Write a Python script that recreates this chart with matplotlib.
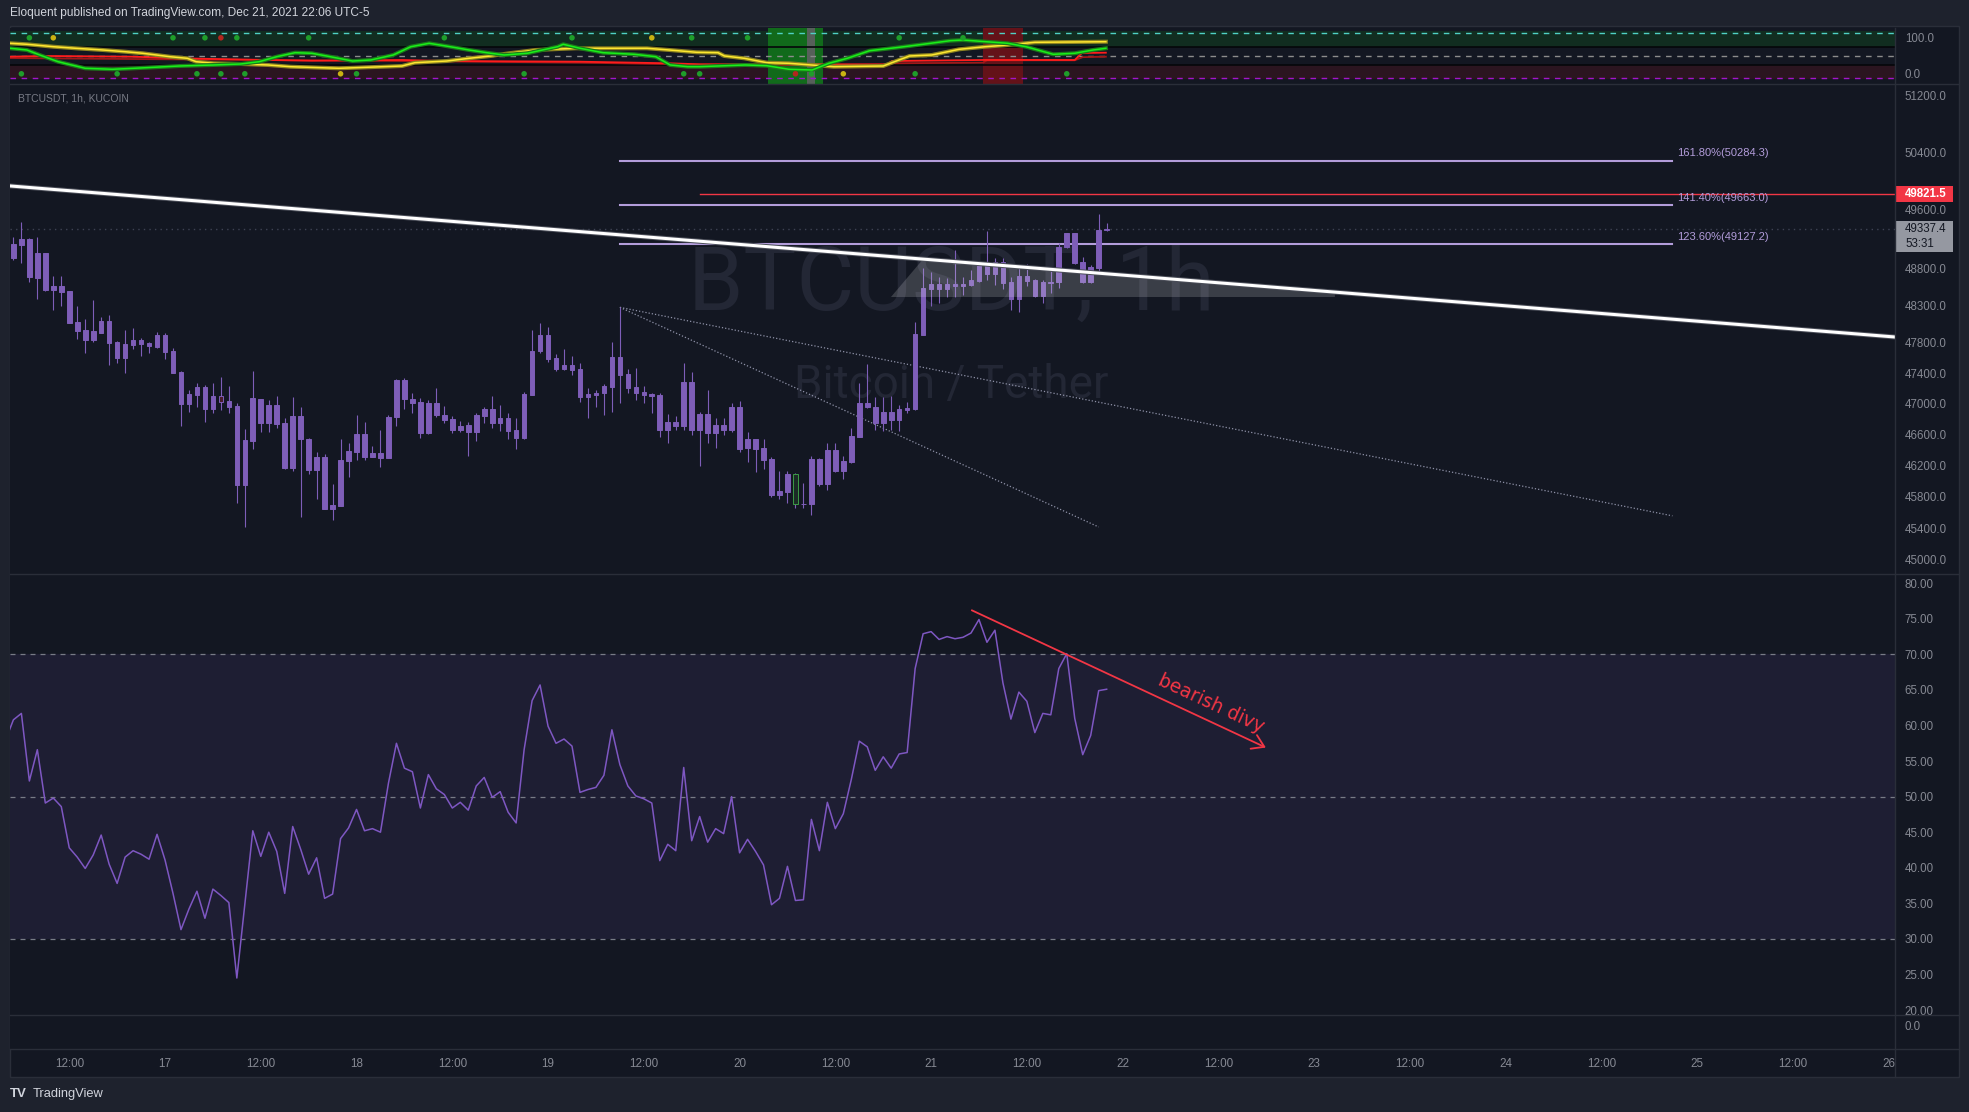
import numpy as np
import matplotlib
matplotlib.use("Agg")
import matplotlib.pyplot as plt
import matplotlib.patheffects as pe
from matplotlib.patches import Rectangle
from matplotlib.lines import Line2D
from matplotlib.text import Text
from matplotlib.offsetbox import DrawingArea, AnnotationBbox
from matplotlib.ticker import FixedLocator, FixedFormatter, NullLocator

plt.rcParams['font.family'] = ['Liberation Sans', 'DejaVu Sans']

# x axis = hours since Dec 16 00:00, one candle per hour
first_hour = 5
opens = [48941, 49116, 49195, 48673, 49016, 48505, 48558, 48492, 48078, 47973,
         47839, 47935, 48091, 47817, 47604, 47773, 47839, 47795, 47747, 47904,
         47692, 47415, 46999, 47112, 47217, 46934, 47099, 47033, 46968, 45942,
         46518, 47060, 46751, 46981, 46751, 46168, 46838, 46539, 46133, 46307,
         45646, 45685, 46259, 46373, 46603, 46312, 46356, 46299, 46829, 47309,
         47055, 47020, 46620, 47003, 46851, 46794, 46655, 46721, 46634, 46838,
         46930, 46751, 46807, 46655, 46555, 47112, 47692, 47904, 47596, 47454,
         47506, 47454, 47090, 47112, 47134, 47221, 47613, 47393, 47212, 47156,
         47099, 47112, 46655, 46765, 46708, 47282, 46655, 46864, 46612, 46721,
         46655, 46955, 46422, 46539, 46422, 46281, 45819, 45863, 46085, 45703,
         45699, 46281, 45964, 46395, 46120, 46246, 46568, 47003, 46955, 46751,
         46890, 46785, 46916, 46925, 47904, 48527, 48590, 48518, 48590, 48564,
         48577, 48629, 48854, 48721, 48889, 48621, 48388, 48695, 48642, 48427,
         48607, 48616, 49094, 49286, 48884, 48621, 48810, 49321]
highs = [49225, 49434, 49212, 49234, 49016, 48695, 48695, 48497, 48292, 48117,
         48374, 48148, 48174, 47826, 47973, 47999, 47861, 47817, 47939, 47926,
         47727, 47428, 47178, 47274, 47243, 47274, 47353, 47230, 47003, 46664,
         47428, 47060, 47047, 47099, 46807, 47090, 46959, 46551, 46373, 46347,
         45964, 46539, 46491, 46851, 46765, 46448, 46655, 46851, 47317, 47331,
         47143, 47068, 47047, 47199, 46968, 46838, 46772, 46760, 46873, 46959,
         47099, 46981, 46882, 46807, 47156, 47973, 48069, 48017, 47652, 47718,
         47626, 47528, 47199, 47178, 47256, 47817, 48274, 47454, 47463, 47230,
         47143, 47143, 46860, 46838, 47528, 47415, 46890, 47178, 46807, 46807,
         47012, 47033, 46629, 46539, 46535, 46303, 46120, 46120, 46098, 45967,
         46321, 46290, 46483, 46491, 46321, 46677, 47265, 47519, 47090, 47090,
         47099, 46981, 47025, 48078, 48801, 48752, 48677, 48673, 49051, 48686,
         48779, 48889, 49312, 48945, 48945, 48677, 48801, 48858, 48656, 48642,
         48760, 49151, 49286, 49286, 48954, 48845, 49547, 49416]
lows = [48911, 48867, 48621, 48383, 48497, 48239, 48292, 48069, 47856, 47670,
        47817, 47926, 47511, 47528, 47397, 47722, 47631, 47661, 47727, 47591,
        47406, 46712, 46895, 46959, 46764, 46873, 46916, 46882, 45716, 45417,
        46404, 46625, 46625, 46686, 46151, 46120, 45541, 46090, 45763, 45638,
        45496, 45680, 46055, 46268, 46268, 46312, 46172, 46299, 46712, 46929,
        46882, 46555, 46598, 46829, 46751, 46612, 46625, 46321, 46518, 46751,
        46677, 46647, 46535, 46404, 46535, 47112, 47670, 47539, 47432, 47441,
        47375, 47025, 46807, 46959, 46851, 46895, 47012, 47143, 47047, 47012,
        46882, 46559, 46483, 46655, 46655, 46590, 46194, 46491, 46417, 46590,
        46634, 46373, 46246, 46107, 46151, 45798, 45767, 45716, 45651, 45651,
        45566, 45929, 45885, 46107, 46020, 46224, 46559, 46938, 46655, 46647,
        46655, 46647, 46873, 46916, 47904, 48292, 48327, 48418, 48418, 48440,
        48558, 48621, 48642, 48577, 48518, 48239, 48217, 48558, 48418, 48335,
        48470, 48540, 49072, 48854, 48607, 48599, 48758, 49312]
closes = [49129, 49195, 48686, 49007, 48505, 48558, 48483, 48069, 47964, 47839,
          47960, 48091, 47804, 47604, 47787, 47839, 47787, 47752, 47904, 47683,
          47406, 46999, 47125, 47217, 46934, 47099, 47025, 46959, 45942, 46526,
          47073, 46751, 46981, 46738, 46168, 46838, 46535, 46133, 46307, 45646,
          45694, 46268, 46382, 46603, 46312, 46356, 46299, 46820, 47309, 47055,
          47012, 46620, 47003, 46851, 46785, 46655, 46708, 46634, 46851, 46930,
          46751, 46807, 46647, 46555, 47125, 47692, 47904, 47587, 47454, 47506,
          47441, 47090, 47125, 47143, 47230, 47613, 47375, 47208, 47143, 47112,
          47125, 46655, 46765, 46708, 47282, 46655, 46864, 46612, 46721, 46655,
          46955, 46413, 46539, 46413, 46268, 45819, 45872, 46090, 45703, 45699,
          46281, 45964, 46395, 46120, 46255, 46572, 47003, 46948, 46751, 46890,
          46785, 46925, 46943, 47918, 48536, 48590, 48518, 48590, 48564, 48590,
          48642, 48854, 48721, 48889, 48608, 48388, 48695, 48629, 48427, 48616,
          48616, 49094, 49286, 48867, 48621, 48814, 49321, 49337]
special_bars = {31: ('#4a1c2b', '#7e5eb8'), 103: ('#1b2a26', '#3c9a46')}
last_price = 49337.4
countdown = '53:31'
alert_price = 49821.5
alert_from = 91

rsi_first_hour = 4
rsi = [57.9, 60.8, 61.7, 52.2, 56.6, 49.1, 49.8, 48.6, 42.8, 41.5,
       39.9, 41.8, 44.6, 40.5, 37.8, 41.5, 42.4, 41.9, 41.2, 44.7,
       41.1, 36.4, 31.3, 34.2, 36.7, 32.9, 37.0, 36.1, 35.1, 24.5,
       34.8, 45.2, 41.6, 45.0, 42.3, 36.4, 45.8, 42.6, 39.1, 41.4,
       35.7, 36.3, 44.1, 45.6, 48.2, 45.2, 45.5, 45.0, 51.9, 57.5,
       54.0, 53.5, 48.4, 53.1, 51.1, 50.3, 48.4, 49.2, 48.1, 51.5,
       52.7, 49.9, 50.7, 47.8, 46.3, 56.6, 63.5, 65.7, 59.9, 57.5,
       58.1, 57.1, 50.6, 51.0, 51.3, 53.0, 59.4, 54.5, 51.5, 50.1,
       49.7, 49.1, 41.0, 43.3, 42.4, 54.1, 43.8, 47.2, 43.6, 45.5,
       44.8, 50.0, 42.1, 44.0, 42.3, 40.4, 34.8, 35.7, 40.2, 35.4,
       35.5, 46.8, 42.4, 49.2, 45.5, 47.6, 52.4, 57.8, 57.0, 53.7,
       55.6, 54.0, 56.0, 56.2, 68.0, 72.9, 73.2, 72.1, 72.5, 72.2,
       72.4, 73.0, 74.9, 71.7, 73.4, 66.0, 60.9, 64.7, 63.4, 59.0,
       61.7, 61.5, 68.0, 70.1, 61.0, 55.9, 58.6, 64.9, 65.1]

# drawings
trend_h = [4, 242]
trend_p = [49937, 47867]
shade_h = [114.97, 119.0, 170.6, 170.6]
shade_p = [48413, 48926, 48479, 48413]
fan_start = (81, 48274)
fan_ends = [(141.0, 45413), (212.9, 45554)]
fib_h = [81, 212.9]
fib_levels = [50284.3, 49663.0, 49127.2]
fib_labels = ['161.80%(50284.3)', '141.40%(49663.0)', '123.60%(49127.2)']
divy_h = [125.1, 161.95]
divy_v = [76.2, 56.9]
divy_label = 'bearish divy'
divy_label_at = (155.05, 63.1)

# top oscillator pane
green_h = [4.6, 6.7, 8.3, 10.6, 14.0, 17.4, 20.1, 25.8, 30.1, 33.5,
           35.8, 38.0, 40.3, 42.4, 44.7, 47.5, 49.8, 52.6, 54.8, 57.1,
           59.2, 62.1, 64.8, 66.5, 69.4, 73.2, 73.9, 76.0, 78.9, 82.8,
           85.5, 87.3, 89.5, 91.0, 96.7, 99.4, 102.2, 105.1, 107.2, 109.5,
           112.3, 115.6, 119.0, 122.4, 124.0, 126.9, 129.6, 131.9, 135.3, 138.0,
           140.3, 141.9]
green_v = [66.7, 62.9, 51.8, 36.9, 22.2, 20.0, 22.2, 27.3, 29.6, 31.8,
           36.9, 48.0, 56.9, 55.6, 48.0, 38.4, 40.7, 51.8, 70.2, 77.8,
           71.8, 62.9, 55.6, 51.8, 55.6, 70.2, 75.6, 66.7, 56.9, 53.3,
           48.0, 29.6, 25.8, 25.8, 29.6, 28.0, 20.0, 18.4, 33.3, 44.4,
           61.3, 68.0, 75.6, 83.6, 85.1, 81.3, 77.8, 70.2, 53.3, 55.6,
           62.9, 66.7]
yellow_h = [4.6, 6.7, 10.0, 12.8, 16.2, 19.0, 21.2, 24.6, 26.8, 27.9,
            30.1, 33.5, 36.9, 39.7, 45.8, 53.7, 55.3, 59.3, 62.1, 64.8,
            67.1, 70.4, 75.5, 84.4, 87.2, 90.6, 93.3, 94.1, 96.6, 99.4,
            102.2, 107.8, 114.0, 117.3, 120.1, 123.5, 126.8, 129.6, 133.0, 141.9]
yellow_v = [77.8, 75.6, 70.2, 66.7, 62.9, 59.1, 55.6, 48.0, 44.4, 36.9,
            33.3, 31.8, 29.6, 25.8, 22.2, 27.3, 34.7, 38.4, 44.4, 49.6,
            55.6, 62.9, 66.7, 66.7, 62.9, 57.8, 56.9, 49.6, 44.4, 34.7,
            33.3, 25.8, 27.3, 49.6, 51.8, 64.4, 70.2, 74.0, 80.0, 81.3]
red_fast_h = [4.6, 8.9, 20.1, 25.8, 36.9, 42.4, 53.7, 59.2, 76.0, 87.3,
              91.0, 114.5, 115.1, 126.5, 138.0, 138.9, 141.9]
red_fast_v = [48.0, 49.6, 48.0, 44.4, 40.7, 39.1, 40.7, 38.4, 36.9, 33.3,
              31.1, 31.1, 38.4, 40.7, 40.7, 56.2, 56.9]
red_slow_h = [4.6, 25.8, 53.7, 76.0, 91.0, 114.5, 115.1, 126.5, 127.0, 138.0, 139.0, 141.9]
red_slow_v = [45.0, 42.0, 38.4, 34.7, 30.4, 29.6, 33.3, 34.7, 40.0, 40.0, 47.0, 48.0]
dots_top_h = [7, 10, 25, 29, 31, 33, 42, 59, 75, 85, 90, 97, 116, 124]
dots_top_c = ['g', 'y', 'g', 'g', 'r', 'g', 'g', 'g', 'g', 'y', 'g', 'g', 'g', 'g']
dots_bot_h = [6, 18, 28, 31, 34, 46, 48, 69, 89, 91, 103, 105, 109, 118, 137]
dots_bot_c = ['g', 'g', 'g', 'g', 'g', 'y', 'g', 'g', 'g', 'g', 'r', 'g', 'y', 'g', 'g']
green_zone = (99.5, 106.5)
gray_zone = (104.5, 105.5)
red_zone = (126.5, 131.5)

price_ticks = [45000, 45400, 45800, 46200, 46600, 47000, 47400, 47800, 48300, 48800, 49600, 50400, 51200]
rsi_ticks = [20, 25, 30, 35, 40, 45, 50, 55, 60, 65, 70, 75, 80]
xtick_hours = [12, 24, 36, 48, 60, 72, 84, 96, 108, 120, 132, 144, 156, 168, 180, 192, 204, 216, 228, 240]
xtick_labels = ['12:00', '17', '12:00', '18', '12:00', '19', '12:00', '20', '12:00', '21',
                '12:00', '22', '12:00', '23', '12:00', '24', '12:00', '25', '12:00', '26']

BG = '#131722'
FRAME = '#1e222d'
SEP = '#2a2e39'
AXIS_TXT = '#868993'
PURPLE = '#7e5eb8'
RSI_COL = '#7e57c2'
FIB = '#b39ddb'
RED = '#f23645'
DOT = {'g': '#1f9e2a', 'y': '#c9b212', 'r': '#b3261e'}

W, H = 1969, 1112
fig = plt.figure(figsize=(W / 100, H / 100), dpi=100, facecolor=FRAME)


def pane(y0, y1, **kw):
    return fig.add_axes([10 / W, 1 - y1 / H, 1885 / W, (y1 - y0) / H], **kw)


ax_osc = pane(28, 84)
ax = pane(84, 574, sharex=ax_osc)
ax_rsi = pane(574, 1015, sharex=ax_osc)
ax_vol = pane(1015, 1049, sharex=ax_osc)

fig.add_artist(Rectangle((10 / W, 1 - 1077 / H), 1949 / W, 1051 / H, transform=fig.transFigure,
                         fc=BG, ec=SEP, lw=1, zorder=-1))
for y in [84, 574, 1015, 1049]:
    fig.add_artist(Line2D([10 / W, 1959 / W], [1 - y / H, 1 - y / H], transform=fig.transFigure,
                          color=SEP, lw=1, zorder=5))
fig.add_artist(Line2D([1895 / W, 1895 / W], [1 - 28 / H, 1 - 1077 / H], transform=fig.transFigure,
                      color=SEP, lw=1, zorder=5))


def style(a, ticks, labels, lo, hi):
    a.set_facecolor(BG)
    for s in a.spines.values():
        s.set_visible(False)
    a.set_ylim(lo, hi)
    a.yaxis.set_major_locator(FixedLocator(ticks))
    a.yaxis.set_major_formatter(FixedFormatter(labels))
    a.yaxis.set_minor_locator(NullLocator())
    a.yaxis.tick_right()
    a.tick_params(axis='y', which='both', length=0, pad=7, labelsize=8.3, labelcolor=AXIS_TXT)
    a.tick_params(axis='x', which='both', length=0, labelbottom=False)


ax.set_yscale('log')
style(ax, price_ticks, ['%.1f' % p for p in price_ticks], 44823, 51368)
style(ax_osc, [0, 100], ['0.0', '100.0'], -12.7, 111.8)
style(ax_rsi, rsi_ticks, ['%.2f' % v for v in rsi_ticks], 19.3, 81.3)
style(ax_vol, [0], ['0.0'], -2.4, 1)
ax.set_xlim(4.574, 240.79)
ax_vol.xaxis.set_major_locator(FixedLocator(xtick_hours))
ax_vol.xaxis.set_major_formatter(FixedFormatter(xtick_labels))
ax_vol.tick_params(axis='x', labelbottom=True, pad=6.8, labelsize=8.4, labelcolor=AXIS_TXT)
for lbl, va in zip(ax_osc.get_yticklabels(), ['baseline', 'top']):
    lbl.set_va(va)

# ---- top oscillator ----
ax_osc.axhspan(70, 105, color='#112d20', lw=0, zorder=0)
ax_osc.axhspan(-2, 30, color='#2b1520', lw=0, zorder=0)
ax_osc.axvspan(*green_zone, color='#116a1b', lw=0, zorder=0.5)
ax_osc.axvspan(*gray_zone, color='#56605a', lw=0, zorder=0.6)
ax_osc.axvspan(*red_zone, color='#641219', lw=0, zorder=0.5)
for lvl in [70, 30]:
    ax_osc.axhline(lvl, color='#05070a', lw=1.2, zorder=1)
ax_osc.axhline(100, color='#4fd1c5', lw=1, ls=(0, (4, 4)), zorder=1)
ax_osc.axhline(50, color='#8c8c8c', lw=1, ls=(0, (4, 4)), zorder=1)
ax_osc.axhline(0, color='#a315c9', lw=1, ls=(0, (4, 4)), zorder=1)
ax_osc.plot(red_slow_h, red_slow_v, color='#a01818', lw=1.3, zorder=2)
ax_osc.plot(red_fast_h, red_fast_v, color='#ff1c1c', lw=1.3, zorder=2.1)
ax_osc.plot(yellow_h, yellow_v, color='#ffe830', lw=1.1, zorder=2.2,
            path_effects=[pe.Stroke(linewidth=2.9, foreground='#8d8420'), pe.Normal()])
ax_osc.plot(green_h, green_v, color='#19f019', lw=1.1, zorder=2.3,
            path_effects=[pe.Stroke(linewidth=2.9, foreground='#1b7a1b'), pe.Normal()])
ax_osc.scatter(dots_top_h, [90] * len(dots_top_h), s=16, c=[DOT[k] for k in dots_top_c], lw=0, zorder=3)
ax_osc.scatter(dots_bot_h, [10] * len(dots_bot_h), s=16, c=[DOT[k] for k in dots_bot_c], lw=0, zorder=3)

# ---- price pane ----
ax.text(0.4992, 0.5898, 'BTCUSDT, 1h', transform=ax.transAxes, ha='center', va='center',
        fontsize=64, family='Roboto', color='#232735', zorder=0.5)
ax.text(0.4992, 0.3857, 'Bitcoin / Tether', transform=ax.transAxes, ha='center', va='center',
        fontsize=33, family='Roboto', color='#232735', zorder=0.5)
ax.text(0.0042, 0.9694, 'BTCUSDT, 1h, KUCOIN', transform=ax.transAxes, ha='left', va='center',
        fontsize=7.5, color='#787b86')

ax.axhline(last_price, color='#3f4354', lw=1, ls=(0, (1, 3)), zorder=1)
for lvl, lab in zip(fib_levels, fib_labels):
    ax.plot(fib_h, [lvl, lvl], color=FIB, lw=1.5, zorder=2)
    ax.annotate(lab, xy=(fib_h[1], lvl), xytext=(3.4, 5.2), textcoords='offset points',
                ha='left', va='center', fontsize=8, color=FIB)
ax.plot([alert_from, 260], [alert_price, alert_price], color=RED, lw=1, zorder=2)
for eh, ep in fan_ends:
    ax.plot([fan_start[0], eh], [fan_start[1], ep], color='#8f92a8', lw=0.9, ls=(0, (1, 1.6)), zorder=2)

hrs = np.arange(first_hour, first_hour + len(closes))
o = np.array(opens, float)
c = np.array(closes, float)
body_lo = np.minimum(o, c)
body_h = np.maximum(np.abs(c - o), 6)
faces = [special_bars.get(h, (PURPLE, PURPLE))[0] for h in hrs]
edges = [special_bars.get(h, (PURPLE, PURPLE))[1] for h in hrs]
ax.vlines(hrs, lows, highs, color=PURPLE, lw=0.8, zorder=3)
ax.bar(hrs, body_h, width=0.58, bottom=body_lo, color=faces, edgecolor=edges, linewidth=0.7, zorder=4)

ax.fill(shade_h, shade_p, color='white', alpha=0.17, lw=0, zorder=4.5)
ax.plot(trend_h, trend_p, color='white', lw=2.2, zorder=5, solid_capstyle='butt',
        path_effects=[pe.Stroke(linewidth=3.6, foreground='#4a4d58'), pe.Normal()])


def price_tag(a, price, lines, fc, tc, height_pt, anchor_y, weight='normal'):
    da = DrawingArea(41.8, height_pt, 0, 0)
    da.add_artist(Rectangle((0, 0), 41.8, height_pt, fc=fc, ec='none'))
    for txt, ypt in lines:
        da.add_artist(Text(7.2, ypt, txt, color=tc, fontsize=8.3, fontweight=weight,
                           ha='left', va='center', family=['Liberation Sans', 'DejaVu Sans']))
    ab = AnnotationBbox(da, (1, price), xycoords=('axes fraction', 'data'), box_alignment=(0, anchor_y),
                        frameon=False, pad=0, annotation_clip=False, zorder=6)
    a.add_artist(ab)


price_tag(ax, alert_price, [('%.1f' % alert_price, 6.0)], RED, 'white', 12.0, 0.5, weight='bold')
price_tag(ax, last_price, [('%.1f' % last_price, 16.6), (countdown, 5.8)], '#9598a1', '#131722', 22.3, 0.742)

# ---- RSI pane ----
ax_rsi.axhspan(30, 70, color='#1e1e33', lw=0, zorder=0)
for lvl in [70, 50, 30]:
    ax_rsi.axhline(lvl, color='#787b86', lw=0.9, ls=(0, (4, 4)), zorder=1)
ax_rsi.plot(np.arange(rsi_first_hour, rsi_first_hour + len(rsi)), rsi, color=RSI_COL, lw=1.1, zorder=3)
ax_rsi.annotate('', xy=(divy_h[1], divy_v[1]), xytext=(divy_h[0], divy_v[0]),
                arrowprops=dict(arrowstyle='->,head_length=0.7,head_width=0.45', color=RED, lw=1.3,
                                shrinkA=0, shrinkB=0, mutation_scale=12), zorder=4)
ang = np.degrees(np.arctan2(divy_v[1] - divy_v[0], divy_h[1] - divy_h[0]))
ax_rsi.text(divy_label_at[0], divy_label_at[1], divy_label, rotation=ang, transform_rotates_text=True,
            rotation_mode='anchor', ha='center', va='center', fontsize=13.5, color=RED,
            family='DejaVu Sans', zorder=4)

# ---- header / footer ----
fig.text(10 / W, 1 - 13 / H, 'Eloquent published on TradingView.com, Dec 21, 2021 22:06 UTC-5',
         ha='left', va='center', fontsize=8.6, color='#d1d4dc')
fig.text(10 / W, 1 - 1094 / H, 'TV', ha='left', va='center', fontsize=9.5, fontweight='heavy', color='#d1d4dc')
fig.text(33 / W, 1 - 1094 / H, 'TradingView', ha='left', va='center', fontsize=9.3, color='#d1d4dc')

fig.savefig('out.png', dpi=100, facecolor=FRAME)
